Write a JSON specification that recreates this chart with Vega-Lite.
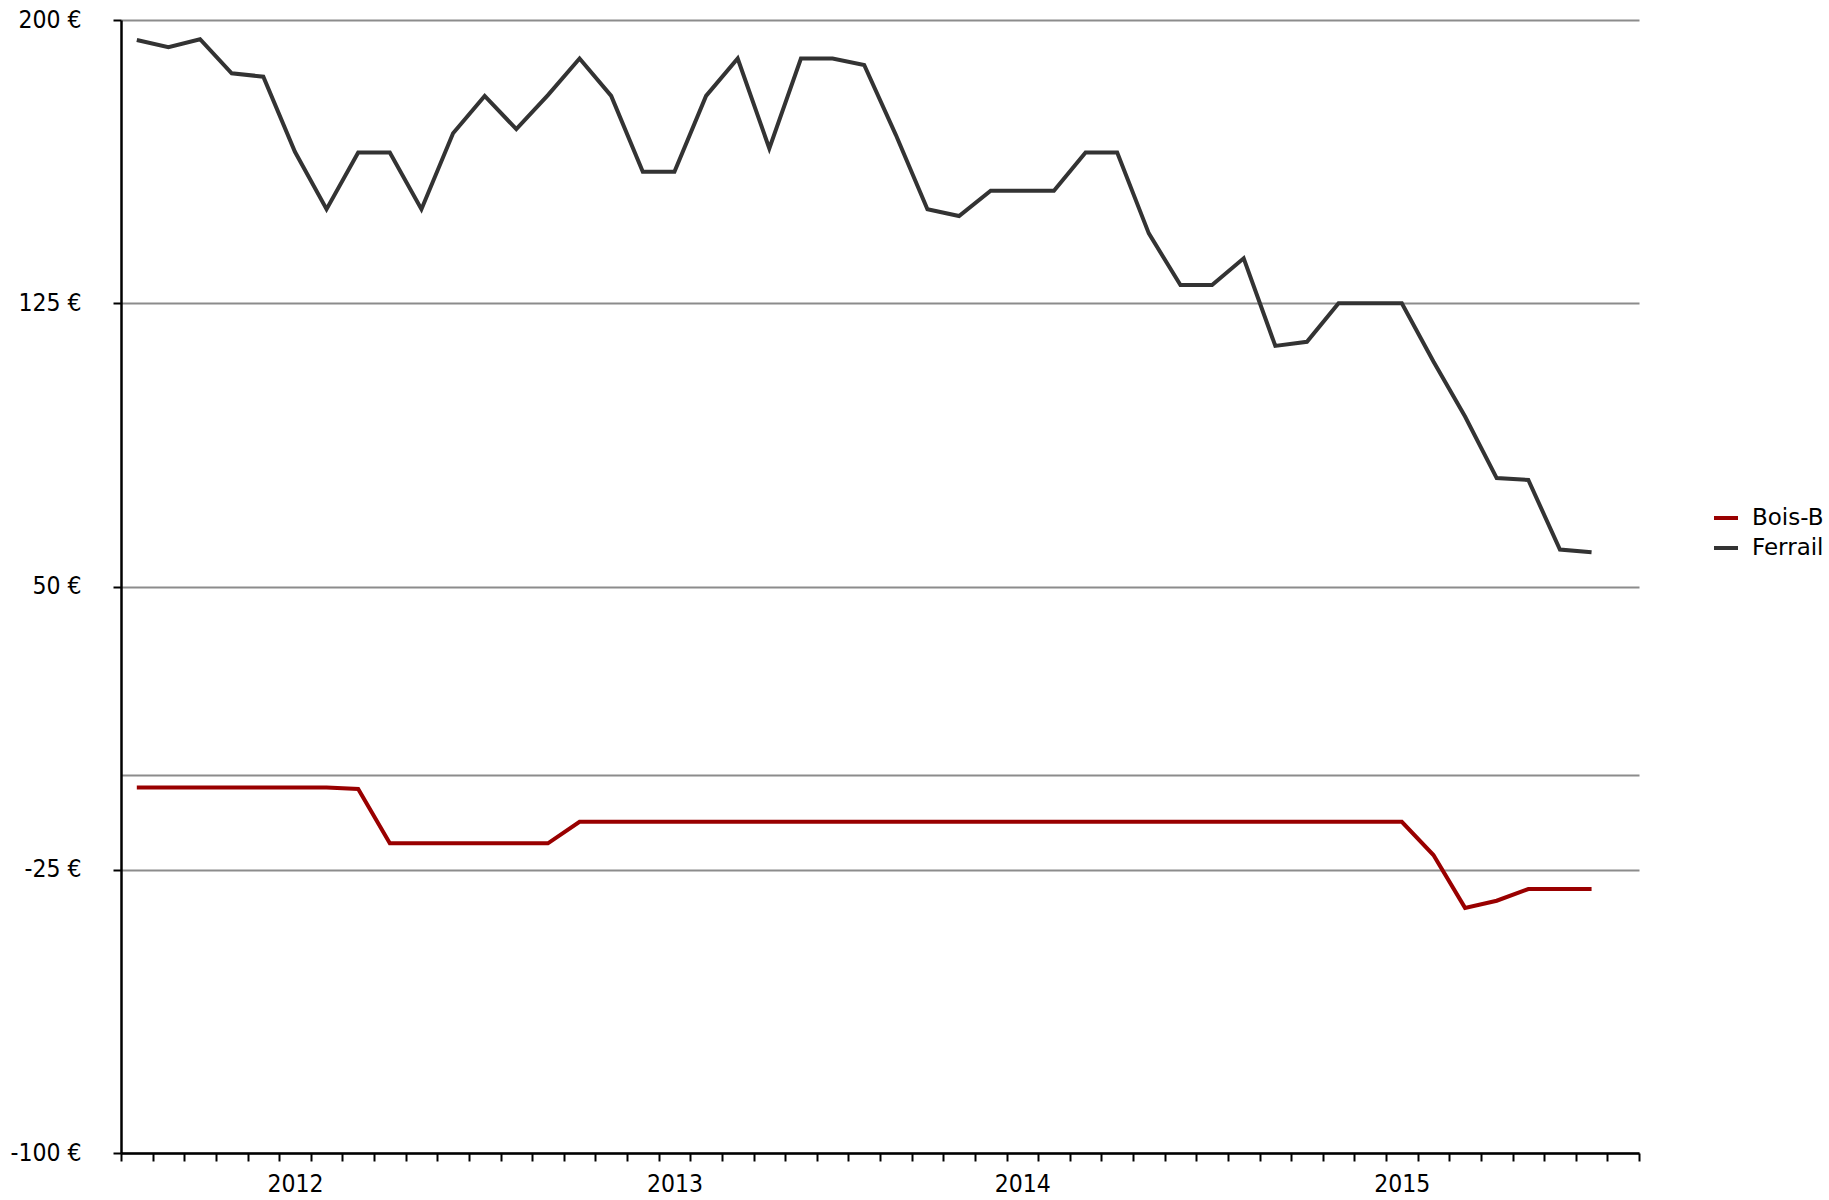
{
  "$schema": "https://vega.github.io/schema/vega-lite/v6.json",
  "width": 1518,
  "height": 1133,
  "autosize": {"type": "none"},
  "padding": {"left": 121, "top": 20, "right": 190, "bottom": 47},
  "background": "white",
  "config": {
    "view": {"stroke": null},
    "font": "DejaVu Sans Condensed",
    "axis": {"labelFont": "DejaVu Sans Condensed", "labelColor": "#000000"}
  },
  "data": {
    "values": [
      {"mois": 1, "serie": "Ferrail", "prix": 194.7},
      {"mois": 2, "serie": "Ferrail", "prix": 192.8},
      {"mois": 3, "serie": "Ferrail", "prix": 194.9},
      {"mois": 4, "serie": "Ferrail", "prix": 185.9},
      {"mois": 5, "serie": "Ferrail", "prix": 185.0},
      {"mois": 6, "serie": "Ferrail", "prix": 165.1},
      {"mois": 7, "serie": "Ferrail", "prix": 149.9},
      {"mois": 8, "serie": "Ferrail", "prix": 164.9},
      {"mois": 9, "serie": "Ferrail", "prix": 164.9},
      {"mois": 10, "serie": "Ferrail", "prix": 149.9},
      {"mois": 11, "serie": "Ferrail", "prix": 170.0},
      {"mois": 12, "serie": "Ferrail", "prix": 179.9},
      {"mois": 13, "serie": "Ferrail", "prix": 171.1},
      {"mois": 14, "serie": "Ferrail", "prix": 180.1},
      {"mois": 15, "serie": "Ferrail", "prix": 189.8},
      {"mois": 16, "serie": "Ferrail", "prix": 179.9},
      {"mois": 17, "serie": "Ferrail", "prix": 159.8},
      {"mois": 18, "serie": "Ferrail", "prix": 159.8},
      {"mois": 19, "serie": "Ferrail", "prix": 179.9},
      {"mois": 20, "serie": "Ferrail", "prix": 189.8},
      {"mois": 21, "serie": "Ferrail", "prix": 166.0},
      {"mois": 22, "serie": "Ferrail", "prix": 189.8},
      {"mois": 23, "serie": "Ferrail", "prix": 189.8},
      {"mois": 24, "serie": "Ferrail", "prix": 188.1},
      {"mois": 25, "serie": "Ferrail", "prix": 169.6},
      {"mois": 26, "serie": "Ferrail", "prix": 149.9},
      {"mois": 27, "serie": "Ferrail", "prix": 148.1},
      {"mois": 28, "serie": "Ferrail", "prix": 154.8},
      {"mois": 29, "serie": "Ferrail", "prix": 154.8},
      {"mois": 30, "serie": "Ferrail", "prix": 154.8},
      {"mois": 31, "serie": "Ferrail", "prix": 164.9},
      {"mois": 32, "serie": "Ferrail", "prix": 164.9},
      {"mois": 33, "serie": "Ferrail", "prix": 143.5},
      {"mois": 34, "serie": "Ferrail", "prix": 129.8},
      {"mois": 35, "serie": "Ferrail", "prix": 129.8},
      {"mois": 36, "serie": "Ferrail", "prix": 136.9},
      {"mois": 37, "serie": "Ferrail", "prix": 113.7},
      {"mois": 38, "serie": "Ferrail", "prix": 114.8},
      {"mois": 39, "serie": "Ferrail", "prix": 125.0},
      {"mois": 40, "serie": "Ferrail", "prix": 125.0},
      {"mois": 41, "serie": "Ferrail", "prix": 125.0},
      {"mois": 42, "serie": "Ferrail", "prix": 109.6},
      {"mois": 43, "serie": "Ferrail", "prix": 95.0},
      {"mois": 44, "serie": "Ferrail", "prix": 78.7},
      {"mois": 45, "serie": "Ferrail", "prix": 78.2},
      {"mois": 46, "serie": "Ferrail", "prix": 59.8},
      {"mois": 47, "serie": "Ferrail", "prix": 59.1},
      {"mois": 1, "serie": "Bois-B", "prix": -3.2},
      {"mois": 2, "serie": "Bois-B", "prix": -3.2},
      {"mois": 3, "serie": "Bois-B", "prix": -3.2},
      {"mois": 4, "serie": "Bois-B", "prix": -3.2},
      {"mois": 5, "serie": "Bois-B", "prix": -3.2},
      {"mois": 6, "serie": "Bois-B", "prix": -3.2},
      {"mois": 7, "serie": "Bois-B", "prix": -3.2},
      {"mois": 8, "serie": "Bois-B", "prix": -3.6},
      {"mois": 9, "serie": "Bois-B", "prix": -18.0},
      {"mois": 10, "serie": "Bois-B", "prix": -18.0},
      {"mois": 11, "serie": "Bois-B", "prix": -18.0},
      {"mois": 12, "serie": "Bois-B", "prix": -18.0},
      {"mois": 13, "serie": "Bois-B", "prix": -18.0},
      {"mois": 14, "serie": "Bois-B", "prix": -18.0},
      {"mois": 15, "serie": "Bois-B", "prix": -12.3},
      {"mois": 16, "serie": "Bois-B", "prix": -12.3},
      {"mois": 17, "serie": "Bois-B", "prix": -12.3},
      {"mois": 18, "serie": "Bois-B", "prix": -12.3},
      {"mois": 19, "serie": "Bois-B", "prix": -12.3},
      {"mois": 20, "serie": "Bois-B", "prix": -12.3},
      {"mois": 21, "serie": "Bois-B", "prix": -12.3},
      {"mois": 22, "serie": "Bois-B", "prix": -12.3},
      {"mois": 23, "serie": "Bois-B", "prix": -12.3},
      {"mois": 24, "serie": "Bois-B", "prix": -12.3},
      {"mois": 25, "serie": "Bois-B", "prix": -12.3},
      {"mois": 26, "serie": "Bois-B", "prix": -12.3},
      {"mois": 27, "serie": "Bois-B", "prix": -12.3},
      {"mois": 28, "serie": "Bois-B", "prix": -12.3},
      {"mois": 29, "serie": "Bois-B", "prix": -12.3},
      {"mois": 30, "serie": "Bois-B", "prix": -12.3},
      {"mois": 31, "serie": "Bois-B", "prix": -12.3},
      {"mois": 32, "serie": "Bois-B", "prix": -12.3},
      {"mois": 33, "serie": "Bois-B", "prix": -12.3},
      {"mois": 34, "serie": "Bois-B", "prix": -12.3},
      {"mois": 35, "serie": "Bois-B", "prix": -12.3},
      {"mois": 36, "serie": "Bois-B", "prix": -12.3},
      {"mois": 37, "serie": "Bois-B", "prix": -12.3},
      {"mois": 38, "serie": "Bois-B", "prix": -12.3},
      {"mois": 39, "serie": "Bois-B", "prix": -12.3},
      {"mois": 40, "serie": "Bois-B", "prix": -12.3},
      {"mois": 41, "serie": "Bois-B", "prix": -12.3},
      {"mois": 42, "serie": "Bois-B", "prix": -21.1},
      {"mois": 43, "serie": "Bois-B", "prix": -35.1},
      {"mois": 44, "serie": "Bois-B", "prix": -33.2},
      {"mois": 45, "serie": "Bois-B", "prix": -30.1},
      {"mois": 46, "serie": "Bois-B", "prix": -30.1},
      {"mois": 47, "serie": "Bois-B", "prix": -30.1}
    ]
  },
  "mark": {"type": "line", "strokeWidth": 4, "strokeJoin": "miter"},
  "encoding": {
    "x": {
      "field": "mois",
      "type": "quantitative",
      "scale": {"domain": [0.5, 48.5], "nice": false, "zero": false},
      "axis": {
        "title": null,
        "values": [0.5, 1.5, 2.5, 3.5, 4.5, 5.5, 6.5, 7.5, 8.5, 9.5, 10.5, 11.5, 12.5, 13.5, 14.5, 15.5, 16.5, 17.5, 18.5, 19.5, 20.5, 21.5, 22.5, 23.5, 24.5, 25.5, 26.5, 27.5, 28.5, 29.5, 30.5, 31.5, 32.5, 33.5, 34.5, 35.5, 36.5, 37.5, 38.5, 39.5, 40.5, 41.5, 42.5, 43.5, 44.5, 45.5, 46.5, 47.5, 48.5],
        "labelExpr": "datum.value == 5.5 ? '2012' : datum.value == 17.5 ? '2013' : datum.value == 28.5 ? '2014' : datum.value == 40.5 ? '2015' : ''",
        "labelOffset": 15.8,
        "labelOverlap": false,
        "labelFlush": false,
        "labelBound": false,
        "labelFontSize": 24.5,
        "labelPadding": 11,
        "grid": false,
        "tickSize": 8,
        "tickWidth": 2,
        "tickColor": "#000000",
        "domainColor": "#000000",
        "domainWidth": 2.5
      }
    },
    "y": {
      "field": "prix",
      "type": "quantitative",
      "scale": {"domain": [-100, 200], "nice": false, "zero": false},
      "axis": {
        "title": null,
        "values": [-100, -25, 0, 50, 125, 200],
        "labelExpr": "datum.value == 0 ? '' : datum.value + ' €'",
        "labelFontSize": 24.5,
        "labelPadding": 32,
        "tickSize": 8,
        "tickWidth": 2,
        "tickColor": "#000000",
        "tickOpacity": {"condition": {"test": "datum.value == 0", "value": 0}, "value": 1},
        "domainColor": "#000000",
        "domainWidth": 2.5,
        "grid": true,
        "gridColor": "#8c8c8c",
        "gridWidth": 2
      }
    },
    "color": {
      "field": "serie",
      "type": "nominal",
      "scale": {"domain": ["Bois-B", "Ferrail"], "range": ["#990000", "#333333"]},
      "legend": {
        "title": null,
        "orient": "none",
        "legendX": 1591,
        "legendY": 484,
        "padding": 0,
        "symbolType": "stroke",
        "symbolSize": 576,
        "symbolStrokeWidth": 4,
        "labelFont": "DejaVu Sans",
        "labelFontSize": 23,
        "labelColor": "#000000",
        "labelOffset": 12,
        "rowPadding": 4
      }
    }
  }
}
